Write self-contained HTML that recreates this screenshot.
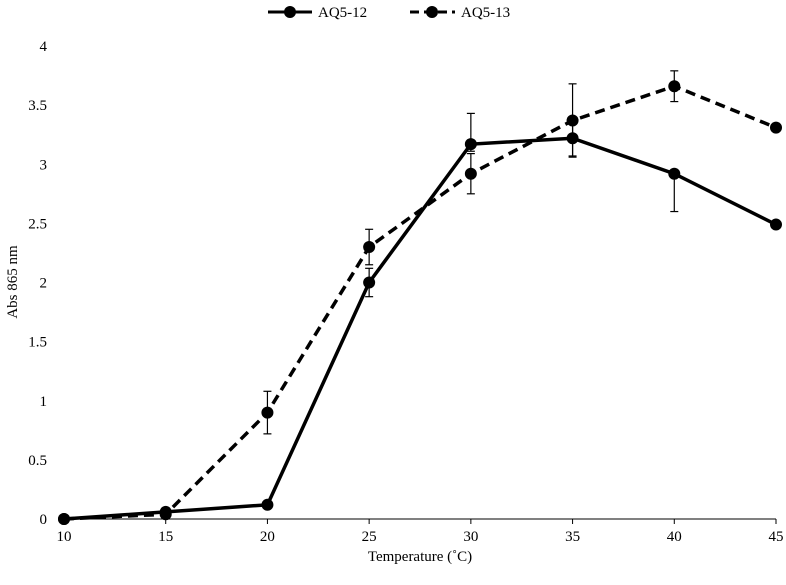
<!DOCTYPE html>
<html><head><meta charset="utf-8"><style>
body{margin:0;background:#fff}
svg text{font-family:"Liberation Serif",serif;font-size:15px;fill:#000}
</style></head><body>
<svg id="chart" width="786" height="580">
<g id="axes"></g><g id="series"></g>
<g>
<g>
<line x1="268" y1="12" x2="312" y2="12" stroke="#000" stroke-width="3"/>
<circle cx="290" cy="12" r="6"/>
<text x="318" y="17">AQ5-12</text></g>
<g>
<line x1="410" y1="12" x2="455" y2="12" stroke="#000" stroke-width="3" stroke-dasharray="9,5"/>
<circle cx="432" cy="12" r="6"/>
<text x="461" y="17">AQ5-13</text></g>
</g>
<text transform="translate(17,282) rotate(-90)" text-anchor="middle">Abs 865 nm</text>
<text x="420" y="561" text-anchor="middle">Temperature (˚C)</text>
</svg>
<script>
const categories=[10,15,20,25,30,35,40,45];
const series12=[0,0.06,0.12,2.0,3.17,3.22,2.92,2.49];
const errLow12=[0,0,0,0.12,0.06,0.15,0.32,0];
const errHigh12=[0,0,0,0.12,0.26,0.15,0,0];
const series13=[0,0.04,0.9,2.3,2.92,3.37,3.66,3.31];
const errLow13=[0,0,0.18,0.15,0.17,0.31,0.13,0];
const errHigh13=[0,0,0.18,0.15,0.17,0.31,0.13,0];
const yTicks=[0,0.5,1,1.5,2,2.5,3,3.5,4];
const yTickLabels=["0","0.5","1","1.5","2","2.5","3","3.5","4"];
const NS="http://www.w3.org/2000/svg";
const X=v=>64+(v-10)/35*712;
const Y=v=>519-v/4*473;
function mk(t,a,p){const e=document.createElementNS(NS,t);for(const k in a)e.setAttribute(k,a[k]);p.appendChild(e);return e;}
const ax=document.getElementById('axes'),se=document.getElementById('series');
const xa=mk('line',{x1:64,y1:519,x2:776,y2:519,stroke:'#000','stroke-width':1},ax);


yTicks.forEach((v,i)=>{const t=mk('text',{x:47,y:Y(v)+5,'text-anchor':'end'},ax);t.textContent=yTickLabels[i];

});
categories.forEach(c=>{const t=mk('text',{x:X(c),y:541,'text-anchor':'middle'},ax);t.textContent=c;


mk('line',{x1:X(c),y1:519,x2:X(c),y2:524,stroke:'#000'},ax);});
function draw(vals,lo,hi,dash,name){
const g=mk('g',{},se);


vals.forEach((v,i)=>{const x=X(categories[i]);
const eb=mk('g',{stroke:'#000','stroke-width':1.2},g);


if(lo[i]>0){mk('line',{x1:x,y1:Y(v-lo[i]),x2:x,y2:Y(v)},eb);
mk('line',{x1:x-4,y1:Y(v-lo[i]),x2:x+4,y2:Y(v-lo[i])},eb);}
if(hi[i]>0){mk('line',{x1:x,y1:Y(v),x2:x,y2:Y(v+hi[i])},eb);
mk('line',{x1:x-4,y1:Y(v+hi[i]),x2:x+4,y2:Y(v+hi[i])},eb);}});
const p=mk('polyline',{points:vals.map((v,i)=>X(categories[i])+','+Y(v)).join(' '),fill:'none',stroke:'#000','stroke-width':3.5,'stroke-dasharray':dash},g);


vals.forEach((v,i)=>{const c=mk('circle',{cx:X(categories[i]),cy:Y(v),r:6},g);

});}
draw(series12,errLow12,errHigh12,'none','series-aq5-12');
draw(series13,errLow13,errHigh13,'10,6','series-aq5-13');
</script>
</body></html>
